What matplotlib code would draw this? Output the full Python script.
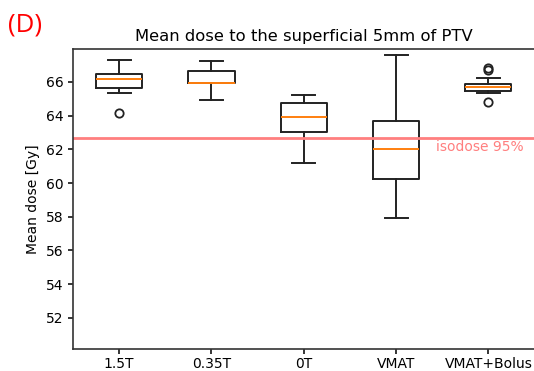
import numpy as np
import matplotlib
matplotlib.use("Agg")
import matplotlib.pyplot as plt

# box statistics (Gy)
labels = ["1.5T", "0.35T", "0T", "VMAT", "VMAT+Bolus"]
medians = [66.20, 65.96, 63.92, 62.00, 65.70]
q1 = [65.63, 65.92, 63.05, 60.24, 65.48]
q3 = [66.46, 66.65, 64.75, 63.69, 65.90]
whis_lo = [65.36, 64.95, 61.18, 57.93, 65.33]
whis_hi = [67.32, 67.25, 65.23, 67.62, 66.24]
fliers = [[64.14], [], [], [], [66.85, 66.71, 64.83]]

isodose_95 = 62.7

stats = []
for i in range(len(labels)):
    stats.append({
        "label": labels[i],
        "med": medians[i],
        "q1": q1[i],
        "q3": q3[i],
        "whislo": whis_lo[i],
        "whishi": whis_hi[i],
        "fliers": fliers[i],
    })

fig = plt.figure(figsize=(5.34, 3.71), dpi=100)
ax = fig.add_axes([73 / 534, 22 / 371, (534.5 - 73) / 534, (349 - 49.3) / 371])

lw = 1.4
ax.bxp(stats, positions=np.arange(1, len(labels) + 1), widths=0.5,
       boxprops=dict(color="#222222", lw=lw),
       whiskerprops=dict(color="#222222", lw=lw),
       capprops=dict(color="#222222", lw=lw),
       medianprops=dict(color="C1", lw=1.4),
       flierprops=dict(markeredgecolor="#222222", markeredgewidth=1.3))
ax.axhline(isodose_95, color="#ff7f7f", lw=2)
ax.text(4.43, isodose_95 - 0.12, "isodose 95%", color="#ff7f7f",
        fontsize=10, va="top", ha="left")

ax.set_xlim(0.5, 5.5)
ax.set_ylim(50.15, 67.94)
ax.set_yticks([52, 54, 56, 58, 60, 62, 64, 66])
ax.set_ylabel("Mean dose [Gy]")
ax.set_title("Mean dose to the superficial 5mm of PTV", fontsize=11.8)
for s in ax.spines.values():
    s.set_linewidth(1.2)
    s.set_color("#333333")
ax.tick_params(width=1.1)
ax.tick_params(axis="x", pad=2.2)

fig.text(8 / 534, 1 - 32 / 371, "(D)", color="red", fontsize=18.5,
         family="Open Sans")

fig.savefig("out.png", dpi=100)
